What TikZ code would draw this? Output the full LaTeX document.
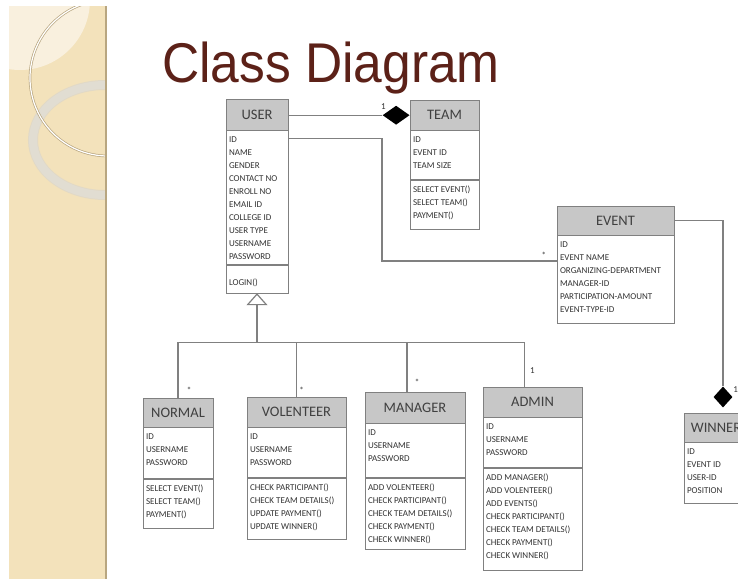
\documentclass[tikz,border=0pt]{standalone}
\usepackage{fontspec}
\setmainfont{Carlito}
\newfontfamily\otsikkofont{Liberation Sans}
\usetikzlibrary{shapes.geometric, arrows.meta, calc, positioning}
\definecolor{ruskea}{RGB}{92,33,24}
\definecolor{paneeli}{RGB}{243,226,187}
\definecolor{vaalea}{RGB}{249,240,222}
\definecolor{reuna}{RGB}{184,166,128}
\definecolor{rengas}{RGB}{226,222,212}
\begin{document}
\begin{tikzpicture}[x=1pt, y=-1pt,
    otsikko/.style={draw=black!50, fill=black!22, anchor=north, inner sep=0,
      font=\fontsize{14.5}{15}\selectfont, text=black!75},
    osa/.style={draw=black!50, anchor=north, inner sep=0},
    kentat/.style={anchor=north west, align=left, inner xsep=3, inner ysep=6,
      font=\fontsize{9}{13}\selectfont, text=black!80},
    merkki/.style={font=\fontsize{9}{9}\selectfont, text=black!80, inner sep=1},
    viiva/.style={draw=black!50, line width=1.2},
    timantti/.style={diamond, fill=black, inner sep=0}]

  \path[use as bounding box, clip] (0,0) rectangle (738,579);
  \fill[white] (0,0) rectangle (738,579);

  % Reunapaneeli
  \fill[paneeli] (9,6) rectangle (106,579);
  \begin{scope}
    \clip (9,6) rectangle (106,579);
    \fill[vaalea] (20,0) circle[radius=70];
    \draw[black!18, line width=10, opacity=.5] (105,140) ellipse[x radius=72, y radius=55];
    \draw[rengas, line width=8, opacity=.9] (105,140) ellipse[x radius=72, y radius=55];
    \draw[reuna, line width=2.6] (108,78) circle[radius=78];
    \draw[white, line width=1.2] (108,78) circle[radius=78];
  \end{scope}
  \draw[reuna, line width=2] (106,6) -- (106,579);

  % Otsikko
  \node[anchor=base west, inner sep=0, xscale=.92, text=ruskea,
    font=\otsikkofont\fontsize{56}{60}\selectfont] (paaotsikko) at (162,82) {Class Diagram};

  % USER
  \node[otsikko, minimum width=62, minimum height=31] (user) at (257,99) {USER};
  \node[osa, minimum width=62, minimum height=134,
    label={[kentat]north west:{ID\\NAME\\GENDER\\CONTACT NO\\ENROLL NO\\EMAIL ID\\COLLEGE ID\\USER TYPE\\USERNAME\\PASSWORD}}]
    (user-a) at (user.south) {};
  \node[osa, minimum width=62, minimum height=28,
    label={[kentat, yshift=-8]north west:{LOGIN()}}] (user-m) at (user-a.south) {};

  % TEAM
  \node[otsikko, minimum width=69, minimum height=30] (team) at (444.5,100) {TEAM};
  \node[osa, minimum width=69, minimum height=49,
    label={[kentat]north west:{ID\\EVENT ID\\TEAM SIZE}}] (team-a) at (team.south) {};
  \node[osa, minimum width=69, minimum height=49,
    label={[kentat]north west:{SELECT EVENT()\\SELECT TEAM()\\PAYMENT()}}] (team-m) at (team-a.south) {};

  % EVENT
  \node[otsikko, minimum width=117, minimum height=29] (event) at (615.5,206) {EVENT};
  \node[osa, minimum width=117, minimum height=88,
    label={[kentat]north west:{ID\\EVENT NAME\\ORGANIZING-DEPARTMENT\\MANAGER-ID\\PARTICIPATION-AMOUNT\\EVENT-TYPE-ID}}]
    (event-a) at (event.south) {};

  % WINNER
  \node[otsikko, minimum width=64, minimum height=29] (winner) at (716,413) {WINNER};
  \node[osa, minimum width=64, minimum height=61,
    label={[kentat]north west:{ID\\EVENT ID\\USER-ID\\POSITION}}] (winner-a) at (winner.south) {};

  % NORMAL
  \node[otsikko, minimum width=70, minimum height=29] (normal) at (178,398) {NORMAL};
  \node[osa, minimum width=70, minimum height=51,
    label={[kentat]north west:{ID\\USERNAME\\PASSWORD}}] (normal-a) at (normal.south) {};
  \node[osa, minimum width=70, minimum height=49,
    label={[kentat]north west:{SELECT EVENT()\\SELECT TEAM()\\PAYMENT()}}] (normal-m) at (normal-a.south) {};

  % VOLENTEER
  \node[otsikko, minimum width=99, minimum height=30] (volenteer) at (296.5,397) {VOLENTEER};
  \node[osa, minimum width=99, minimum height=50,
    label={[kentat]north west:{ID\\USERNAME\\PASSWORD}}] (volenteer-a) at (volenteer.south) {};
  \node[osa, minimum width=99, minimum height=61,
    label={[kentat]north west:{CHECK PARTICIPANT()\\CHECK TEAM DETAILS()\\UPDATE PAYMENT()\\UPDATE WINNER()}}]
    (volenteer-m) at (volenteer-a.south) {};

  % MANAGER
  \node[otsikko, minimum width=100, minimum height=31] (manager) at (415,392) {MANAGER};
  \node[osa, minimum width=100, minimum height=54,
    label={[kentat]north west:{ID\\USERNAME\\PASSWORD}}] (manager-a) at (manager.south) {};
  \node[osa, minimum width=100, minimum height=71,
    label={[kentat]north west:{ADD VOLENTEER()\\CHECK PARTICIPANT()\\CHECK TEAM DETAILS()\\CHECK PAYMENT()\\CHECK WINNER()}}]
    (manager-m) at (manager-a.south) {};

  % ADMIN
  \node[otsikko, minimum width=99, minimum height=30] (admin) at (532.5,387) {ADMIN};
  \node[osa, minimum width=99, minimum height=50,
    label={[kentat]north west:{ID\\USERNAME\\PASSWORD}}] (admin-a) at (admin.south) {};
  \node[osa, minimum width=99, minimum height=102,
    label={[kentat]north west:{ADD MANAGER()\\ADD VOLENTEER()\\ADD EVENTS()\\CHECK PARTICIPANT()\\CHECK TEAM DETAILS()\\CHECK PAYMENT()\\CHECK WINNER()}}]
    (admin-m) at (admin-a.south) {};

  % Kokoonpanot
  \node[timantti, minimum width=27, minimum height=19, anchor=east] (d1) at (team.west) {};
  \draw[viiva] (d1.west) -- (d1.west -| user.east);
  \node[merkki] (m1) at ($(d1.west)+(1,-9)$) {1};

  \node[timantti, minimum width=19, minimum height=21] (d2) at (723,397) {};
  \draw[viiva] (event.east) -| (d2.north);
  \node[merkki] (m2) at ($(d2.east)+(3,-7)$) {1};

  % USER -- EVENT
  \coordinate (k1) at (382,261);
  \draw[viiva] ($(user-a.north east)+(0,8)$) -| (k1) -- (k1 -| event-a.west);
  \node[merkki] (m3) at ($(k1 -| event-a.west)+(-13,-6)$) {*};

  % Periytyminen
  \coordinate (haara) at ($(user-m.south)+(0,49)$);
  \coordinate (mx) at ($(manager.north)+(-8,0)$);
  \coordinate (ax) at ($(admin.north)+(-8,0)$);
  \draw[viiva, -{Triangle[open, length=12pt, width=21pt]}] (haara) -- (user-m.south);
  \draw[viiva] (normal.north) |- (ax |- haara) -- (ax);
  \draw[viiva] (volenteer.north) -- (volenteer.north |- haara);
  \draw[viiva] (mx) -- (mx |- haara);
  \node[merkki] (m4) at ($(normal.north)+(11,-8)$) {*};
  \node[merkki] (m5) at ($(volenteer.north)+(5,-7)$) {*};
  \node[merkki] (m6) at ($(mx)+(10,-10)$) {*};
  \node[merkki] (m7) at ($(ax)+(8,-16)$) {1};
\end{tikzpicture}
\end{document}
